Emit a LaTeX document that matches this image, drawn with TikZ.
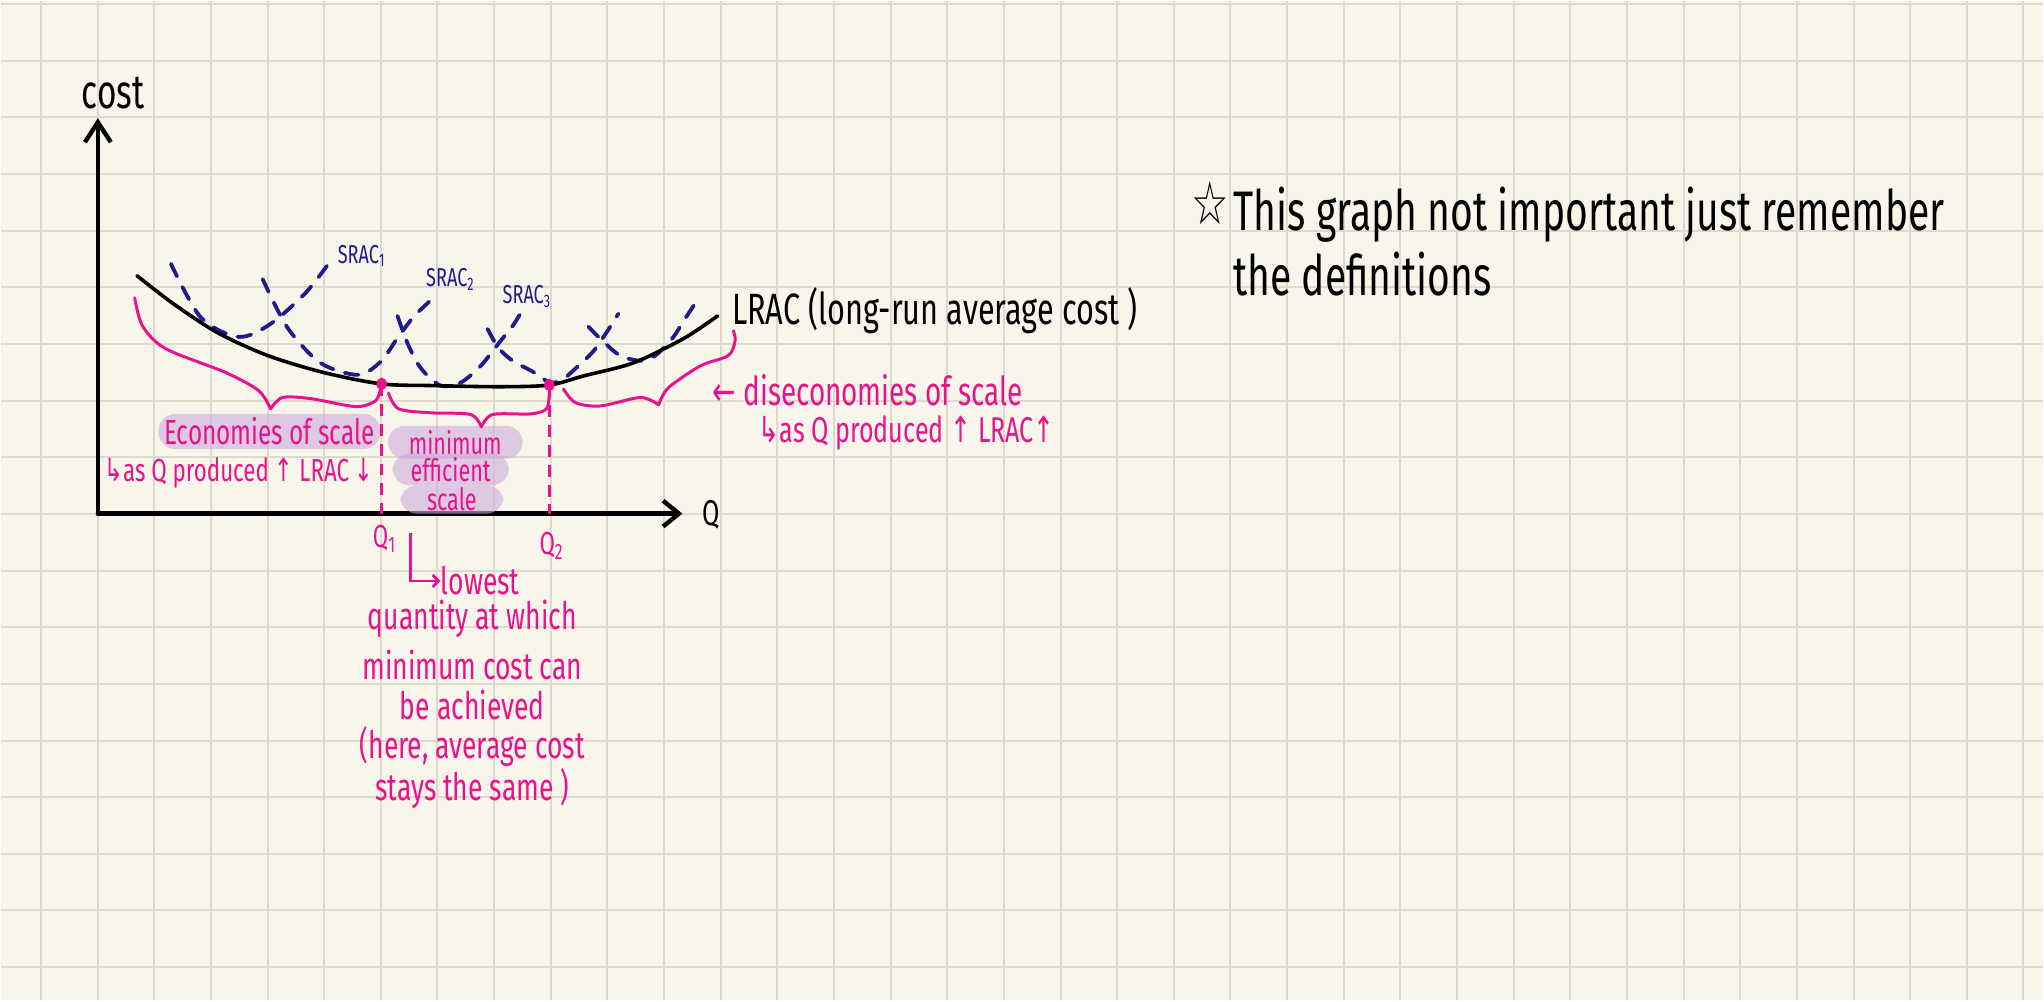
\documentclass[tikz,border=0pt]{standalone}
\usepackage{fontspec}
\setmainfont[FakeStretch=0.7]{Fira Sans}
\newfontfamily\symb[FakeStretch=0.7]{DejaVu Sans}
\usetikzlibrary{arrows.meta}
\definecolor{paper}{RGB}{248,246,234}
\definecolor{gridc}{RGB}{221,218,205}
\definecolor{hotpink}{RGB}{234,18,140}
\definecolor{navy}{RGB}{32,26,140}
\definecolor{lilac}{RGB}{205,170,222}

\begin{document}
\begin{tikzpicture}[align=center,
  axis/.style={line width=2.2pt, line cap=round},
  lrac/.style={line width=1.8pt, line cap=round},
  srac/.style={navy, line width=1.9pt, dash pattern=on 7pt off 6pt, line cap=round},
  brace/.style={hotpink, line width=1.5pt, line cap=round, line join=round},
  qline/.style={hotpink, line width=1.4pt, dash pattern=on 6pt off 4pt},
  pinktxt/.style={text=hotpink, font=\fontsize{19}{20}\selectfont, inner sep=0pt},
  hilite/.style={pinktxt, font=\fontsize{15.5}{17}\selectfont, fill=lilac, fill opacity=0.6, text opacity=1, rounded corners=8.5pt},
  blacktxt/.style={font=\fontsize{22}{24}\selectfont, inner sep=0pt},
  sractxt/.style={text=navy, font=\fontsize{13}{15}\selectfont, inner sep=0pt, anchor=west}]
  \fill[paper] (0,0) rectangle (36.05,17.64);
  \foreach \i in {0,...,35} \draw[gridc, line width=1pt] (0.705+\i,0) -- (0.705+\i,17.64);
  \foreach \j in {0,...,17} \draw[gridc, line width=1pt] (0,0.584+\j) -- (36.05,0.584+\j);

  \coordinate (O) at (1.71,8.59);
  \coordinate (ytop) at (1.71,15.57);
  \coordinate (xend) at (12.03,8.59);
  \draw[axis, -{Straight Barb[length=10pt,width=13pt]}] (O) -- (ytop);
  \draw[axis, -{Straight Barb[length=8pt,width=13pt]}] (O) -- (xend);
  \path (1.98,16.01) node[blacktxt, font=\fontsize{24}{26}\selectfont] (cost) {cost}
        (12.54,8.57) node[blacktxt, font=\fontsize{18}{20}\selectfont] (Qaxis) {Q};

  \draw[srac] plot[smooth] coordinates {(3.00,13.00) (3.53,12.05) (4.20,11.71) (4.76,11.94) (5.38,12.49) (5.78,13.00)};
  \draw[srac] plot[smooth] coordinates {(4.62,12.73) (5.06,11.87) (5.64,11.25) (6.30,11.04) (6.70,11.27) (7.00,11.69) (7.28,12.06) (7.58,12.35)};
  \draw[srac] plot[smooth] coordinates {(7.00,12.08) (7.18,11.59) (7.41,11.16) (7.76,10.85) (8.11,10.90) (8.47,11.20) (8.82,11.64) (9.03,11.90) (9.17,12.12)};
  \draw[srac] plot[smooth] coordinates {(8.59,11.85) (8.78,11.52) (9.03,11.29) (9.40,11.09) (9.66,10.92) (9.88,10.93) (10.14,11.15) (10.46,11.46) (10.71,11.82) (10.90,12.12)};
  \draw[srac] plot[smooth] coordinates {(10.37,11.89) (10.62,11.64) (10.93,11.38) (11.29,11.29) (11.55,11.38) (11.85,11.68) (12.05,11.99) (12.26,12.31)};
  \path (5.94,13.14) node[sractxt] (srac1) {SRAC\textsubscript{1}}
        (7.50,12.72) node[sractxt] (srac2) {SRAC\textsubscript{2}}
        (8.85,12.43) node[sractxt] (srac3) {SRAC\textsubscript{3}};

  \draw[lrac] plot[smooth] coordinates {(2.40,12.79) (3.05,12.29) (3.83,11.78) (4.71,11.38) (5.70,11.08) (6.72,10.88) (7.64,10.85) (8.82,10.83) (9.68,10.86) (10.28,11.02) (11.16,11.25) (12.05,11.68) (12.65,12.08)};
  \node[blacktxt, anchor=west] (lraclab) at (12.90,12.17) {LRAC (long-run average cost )};

  \path (4.74,10.04) node[hilite, font=\fontsize{17.5}{20}\selectfont, minimum width=3.92cm, minimum height=0.62cm] (eos) {Economies of scale}
        (8.02,9.85) node[hilite, minimum width=2.38cm, minimum height=0.58cm] (mini) {minimum}
        (7.94,9.37) node[hilite, minimum width=2.05cm, minimum height=0.56cm] (eff) {efficient}
        (7.96,8.84) node[hilite, minimum width=1.82cm, minimum height=0.5cm] (scl) {scale};

  \coordinate (Q1pt) at (6.72,10.88);
  \coordinate (Q2pt) at (9.68,10.86);
  \draw[qline] (Q1pt) -- (Q1pt |- O);
  \draw[qline] (Q2pt) -- (Q2pt |- O);
  \fill[hotpink] (Q1pt) circle[x radius=0.09, y radius=0.11];
  \fill[hotpink] (Q2pt) circle[x radius=0.09, y radius=0.11];

  \draw[brace] plot[smooth] coordinates {(2.36,12.40) (2.50,11.90) (2.91,11.50) (3.97,11.08) (4.55,10.76) (4.76,10.44)};
  \draw[brace] plot[smooth] coordinates {(4.76,10.44) (4.97,10.64) (5.47,10.62) (6.26,10.48) (6.61,10.58) (6.70,10.79)};
  \draw[brace] plot[smooth] coordinates {(6.84,10.72) (7.02,10.44) (7.58,10.37) (8.29,10.34) (8.48,10.12)};
  \draw[brace] plot[smooth] coordinates {(8.48,10.12) (8.68,10.34) (9.35,10.35) (9.63,10.44) (9.68,10.72)};
  \draw[brace] plot[smooth] coordinates {(9.93,10.79) (10.14,10.55) (10.58,10.49) (11.29,10.64) (11.61,10.51)};
  \draw[brace] plot[smooth] coordinates {(11.61,10.51) (11.78,10.81) (12.35,11.20) (12.84,11.38) (12.96,11.64) (12.93,11.82)};

  \node[pinktxt, anchor=west, font=\fontsize{16}{18}\selectfont] (eosrule) at (1.82,9.31) {{\symb ↳}as Q produced {\symb ↑} LRAC {\symb ↓}};
  \node[pinktxt, anchor=west, font=\fontsize{20}{22}\selectfont] (dis) at (12.56,10.76) {{\symb ←} diseconomies of scale};
  \node[pinktxt, anchor=west, font=\fontsize{18}{20}\selectfont] (disrule) at (13.37,10.02) {{\symb ↳}as Q produced {\symb ↑} LRAC{\symb ↑}};

  \path (6.77,8.15) node[pinktxt, font=\fontsize{16}{18}\selectfont] (Q1) {Q\textsubscript{1}}
        (9.72,8.02) node[pinktxt, font=\fontsize{16}{18}\selectfont] (Q2) {Q\textsubscript{2}};
  \coordinate (hook) at (7.23,8.25);
  \path (7.76,7.40) node[pinktxt, anchor=west] (lowest) {lowest}
        (8.32,5.22) node[pinktxt] (defn) {quantity at which\\[5pt]minimum cost can\\be achieved\\(here, average cost\\stays the same )};
  \draw[hotpink, line width=1.4pt, -{Straight Barb[length=3pt,width=6pt]}] (hook) |- (lowest.west);

  \path (21.34,14.07) node[blacktxt, font=\fontsize{30}{32}\selectfont] (star) {{\symb ☆}}
        (21.75,14.36) node[blacktxt, anchor=north west, align=left, font=\fontsize{28}{32.5}\selectfont] (note) {This graph not important just remember\\the definitions};
\end{tikzpicture}
\end{document}
